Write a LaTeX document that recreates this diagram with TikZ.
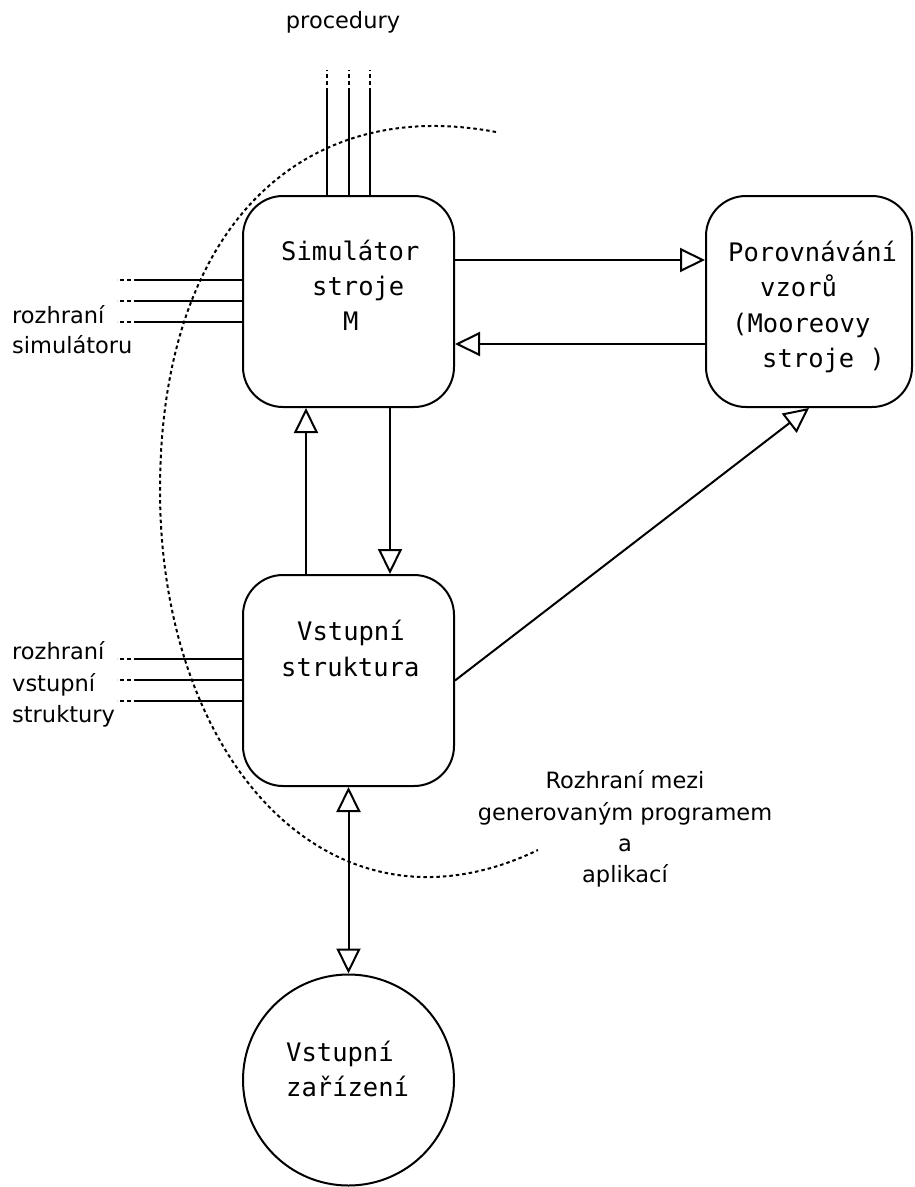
\documentclass[tikz,border=0pt]{standalone}
\usepackage{fontspec}
\setmainfont{DejaVu Sans}
\newfontfamily\monof{DejaVu Sans Mono}
\usetikzlibrary{arrows.meta}
\tikzset{
  box/.style={draw, line width=2pt, rounded corners=40pt, minimum width=211pt, minimum height=211pt, inner sep=0pt},
  dev/.style={draw, line width=2pt, circle, minimum size=211pt, inner sep=0pt},
  conn/.style={line width=2pt, -{Triangle[open, length=25pt, width=24pt, fill=white]}},
  dconn/.style={line width=2pt, {Triangle[open, length=25pt, width=24pt, fill=white]}-{Triangle[open, length=25pt, width=24pt, fill=white]}},
  wire/.style={line width=2pt},
  wdash/.style={line width=2pt, dash pattern=on 4pt off 3pt},
  boundary/.style={line width=2pt, dash pattern=on 3.5pt off 3pt},
  mono/.style={font=\monof\fontsize{25.5}{30}\selectfont, inner sep=0pt, anchor=base west},
  lbl/.style={font=\fontsize{22.5}{27}\selectfont, inner sep=0pt},
}
\begin{document}
\begin{tikzpicture}[x=1pt, y=-1pt]
\useasboundingbox (0,0) rectangle (914,1187);

% boundary curve
\coordinate (bA) at (496,132);
\coordinate (bB) at (160,490);
\coordinate (bC) at (538,850);
\draw[boundary] (bA) .. controls (300,95) and (160,230) .. (bB)
                     .. controls (160,760) and (330,950) .. (bC);

% nodes
\node[box] (sim) at (348.5,301.5) {};
\node[box, minimum width=206pt] (por) at (809,301.5) {};
\node[box] (vs) at (348.5,680.5) {};
\node[dev] (dev) at (348.5,1080) {};

% texts in boxes
\node[mono] (t1) at (281,260) {Simulátor};
\node[mono] (t2) at (312,295) {stroje};
\node[mono] (t3) at (343,330) {M};
\node[mono] (t4) at (728,261) {Porovnávání};
\node[mono] (t5) at (760,296) {vzorů};
\node[mono] (t6) at (732,332) {(Mooreovy};
\node[mono] (t7) at (762,367) {stroje )};
\node[mono] (t8) at (297,640) {Vstupní};
\node[mono] (t9) at (281,676) {struktura};
\node[mono] (t10) at (286,1061) {Vstupní};
\node[mono] (t11) at (286,1096) {zařízení};

% connectors
\draw[conn] ([yshift=41.5pt]sim.east) -- ([yshift=41.5pt]por.west);
\draw[conn] ([yshift=-42.5pt]por.west) -- ([yshift=-42.5pt]sim.east);
\draw[conn] ([xshift=-42.5pt]vs.north) -- ([xshift=-42.5pt]sim.south);
\draw[conn] ([xshift=41.5pt]sim.south) -- ([xshift=41.5pt]vs.north);
\draw[conn] (vs.east) -- (por.south);
\draw[dconn] (vs.south) -- (dev.north);

% procedury wires
\foreach \dx/\n in {-21.5/a, 0/b, 21.5/c}{
  \coordinate (p\n1) at ([xshift=\dx pt]sim.north |- 0,92);
  \coordinate (p\n2) at ([xshift=\dx pt]sim.north |- 0,70);
  \draw[wire] ([xshift=\dx pt]sim.north) -- (p\n1);
  \draw[wdash] (p\n1) -- (p\n2);
}
% left wires
\foreach \yy/\n in {280/a, 301/b, 322/c}{
  \coordinate (s\n1) at (138,\yy);
  \coordinate (s\n2) at (117,\yy);
  \draw[wire] (sim.west |- s\n1) -- (s\n1);
  \draw[wdash] (s\n1) -- (s\n2);
}
\foreach \yy/\n in {659/a, 680/b, 701/c}{
  \coordinate (v\n1) at (138,\yy);
  \coordinate (v\n2) at (117,\yy);
  \draw[wire] (vs.west |- v\n1) -- (v\n1);
  \draw[wdash] (v\n1) -- (v\n2);
}

% labels
\node[lbl, anchor=base] (lp) at (343,28) {procedury};
\node[lbl, anchor=base west] (ls1) at (12,323) {rozhraní};
\node[lbl, anchor=base west] (ls2) at (12,353) {simulátoru};
\node[lbl, anchor=base west] (lv1) at (12,659) {rozhraní};
\node[lbl, anchor=base west] (lv2) at (12,691) {vstupní};
\node[lbl, anchor=base west] (lv3) at (12,722) {struktury};
\node[lbl, anchor=base] (r1) at (625,788) {Rozhraní mezi};
\node[lbl, anchor=base] (r2) at (625,820) {generovaným programem};
\node[lbl, anchor=base] (r3) at (625,851) {a};
\node[lbl, anchor=base] (r4) at (625,882) {aplikací};
\end{tikzpicture}
\end{document}
